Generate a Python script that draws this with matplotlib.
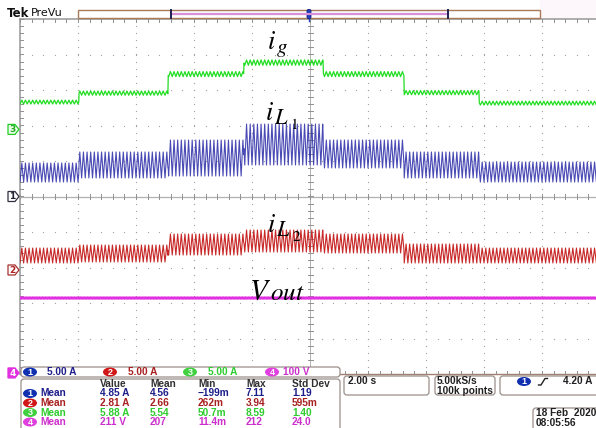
import numpy as np
import matplotlib
matplotlib.use("Agg")
import matplotlib.pyplot as plt
from matplotlib.patches import Polygon, Ellipse, FancyBboxPatch, Rectangle

W, H = 596, 428

# ---- acquisition settings ----
time_per_div = 2.0       # s/div
amps_per_div = 5.0       # A/div for channels 1-3
volts_per_div = 100.0    # V/div for channel 4
ripple_period = 0.125    # s, apparent (aliased) switching ripple

# load-step instants (s, relative to trigger)
step_times = [-7.97, -4.90, -2.28, 0.45, 3.24, 5.83]

# per-segment mean level and peak-to-peak ripple (A)
ig_level = [3.85, 5.11, 7.79, 9.41, 7.79, 5.18, 3.70]
ig_ripple = [0.55, 0.60, 0.70, 0.75, 0.70, 0.60, 0.55]
il1_level = [3.38, 4.44, 5.42, 7.32, 5.99, 4.44, 3.45]
il1_ripple = [2.68, 3.66, 5.07, 5.77, 3.94, 3.66, 2.82]
il2_level = [2.04, 2.32, 3.59, 4.08, 3.73, 2.32, 2.04]
il2_ripple = [2.11, 2.39, 2.96, 3.10, 2.68, 2.68, 2.11]
vout_level = 211.0       # V
vout_ripple = 6.0        # V p-p

# ground reference positions (divisions from screen centre)
offset_ch1 = 0.0
offset_ch2 = -2.07
offset_ch3 = 1.89
offset_ch4 = -4.97

# channel colours
col_ch1, col_ch2, col_ch3, col_ch4 = "#2a2aa8", "#c82828", "#22dd22", "#e030e0"
txt_ch1, txt_ch2, txt_ch3, txt_ch4 = "#1e1e8a", "#a82020", "#2ecc2e", "#cc30cc"
badge_ch1, badge_ch2, badge_ch3, badge_ch4 = "#1030b0", "#d01818", "#40d040", "#e040e0"

# readouts
scale_labels = ["5.00 A", "5.00 A", "5.00 A", "100 V"]
meas_header = ["Value", "Mean", "Min", "Max", "Std Dev"]
meas_rows = [
    ["4.85 A", "4.56", "\u2212199m", "7.11", "1.19"],
    ["2.81 A", "2.66", "262m", "3.94", "595m"],
    ["5.88 A", "5.54", "50.7m", "8.59", "1.40"],
    ["211 V", "207", "11.4m", "212", "24.0"],
]
timebase_label = "2.00 s"
sample_label = ["5.00kS/s", "100k points"]
trigger_label = "4.20 A"
date_label = ["18 Feb  2020", "08:05:56"]

plt.rcParams["mathtext.fontset"] = "stix"
plt.rcParams["font.family"] = ["DejaVu Sans"]
ui_font = ["Liberation Sans", "DejaVu Sans"]
ui_size = 7.3

fig = plt.figure(figsize=(W / 100, H / 100), dpi=100)
fig.patch.set_facecolor("white")

# graticule axes: 10 x 10 divisions, time in seconds, vertical in divisions
left_px, right_px, top_px, bot_px = 20, 600, 19, 374
ax = fig.add_axes([left_px / W, (H - bot_px) / H, (right_px - left_px) / W, (bot_px - top_px) / H])
ax.set_xlim(-5 * time_per_div, 5 * time_per_div)
ax.set_ylim(-5, 5)
ax.axis("off")

px_x = (2 * 5 * time_per_div) / (right_px - left_px)   # seconds per pixel
px_y = 10 / (bot_px - top_px)                            # divisions per pixel

grid_c = "#a0a0a0"
# dotted grid
sub_y = np.arange(-5, 5.001, 0.2)
sub_x = np.arange(-10, 10.001, 0.4)
for k in range(-4, 5):
    if k == 0:
        continue
    xv = k * time_per_div
    ax.scatter(np.full_like(sub_y, xv), sub_y, s=0.8, color=grid_c, lw=0, zorder=1)
    ax.scatter(sub_x, np.full_like(sub_x, k), s=0.8, color=grid_c, lw=0, zorder=1)

# centre crosshair with minor ticks
ax.axvline(0, color="#b0b0b0", lw=0.7, zorder=1)
ax.axhline(0, color="#b0b0b0", lw=0.9, zorder=1)
for yv in sub_y:
    ax.plot([-2.5 * px_x, 2.5 * px_x], [yv, yv], color="#909090", lw=0.7, zorder=1)
for xv in sub_x:
    ax.plot([xv, xv], [-2.5 * px_y, 2.5 * px_y], color="#909090", lw=0.7, zorder=1)

# screen border with ticks
ax.plot([-10, -10], [-5, 5], color="#a0a0a0", lw=1.2, clip_on=False, zorder=1)
ax.plot([-10, 10], [5, 5], color="#a0a0a0", lw=1.2, clip_on=False, zorder=1)
ax.plot([-10, 10], [-5, -5], color="#a08070", lw=1.0, clip_on=False, zorder=1)
for yv in sub_y:
    ax.plot([-10, -10 + 3 * px_x], [yv, yv], color="#909090", lw=0.7, zorder=1)
for xv in sub_x:
    ax.plot([xv, xv], [5, 5 - 3 * px_y], color="#909090", lw=0.7, zorder=1)
    ax.plot([xv, xv], [-5, -5 + 3 * px_y], color="#909090", lw=0.7, zorder=1)

# ---- traces ----
t = np.arange(-10, 10, ripple_period / 10)
seg = np.searchsorted(step_times, t)
phase = t / ripple_period
tri = 2 * np.abs(2 * (phase - np.floor(phase + 0.5))) - 1


def trace(levels, ripples):
    lv = np.asarray(levels)[seg]
    rp = np.asarray(ripples)[seg]
    return lv + 0.5 * rp * tri


vphase = t / 0.05
vtri = 2 * np.abs(2 * (vphase - np.floor(vphase + 0.5))) - 1
vout = vout_level + 0.5 * vout_ripple * vtri

ax.plot(t, offset_ch4 + vout / volts_per_div, color=col_ch4, lw=1.0, zorder=3)
ax.plot(t, offset_ch2 + trace(il2_level, il2_ripple) / amps_per_div, color=col_ch2, lw=0.8, zorder=3)
ax.plot(t, offset_ch1 + trace(il1_level, il1_ripple) / amps_per_div, color=col_ch1, lw=0.8, alpha=0.85, zorder=3)
ax.plot(t, offset_ch3 + trace(ig_level, ig_ripple) / amps_per_div, color=col_ch3, lw=0.9, zorder=3)

# ---- overlay in pixel coordinates for the instrument UI ----
ov = fig.add_axes([0, 0, 1, 1], zorder=10)
ov.set_xlim(0, W)
ov.set_ylim(H, 0)
ov.axis("off")


def ypix(offset):
    disp = ax.transData.transform((0, offset))
    return H - disp[1]


def ui_text(x, y, s, color="#202020", **kw):
    ov.text(x, y, s, fontsize=ui_size, fontweight="bold", family=ui_font,
            color=color, va="center", ha="left", **kw)


def sym(x, y, s, size):
    ov.text(x, y, s, fontsize=size, va="baseline", ha="left", color="black")


# trace labels (symbol with large subscripts)
sym(267, 49, r"$i$", 19)
sym(276, 53, r"$g$", 15)
sym(265, 120, r"$i$", 19)
sym(274, 124, r"$L$", 16)
sym(290, 129, r"$1$", 11)
sym(267, 232, r"$i$", 19)
sym(276, 236, r"$L$", 16)
sym(292, 241, r"$2$", 11)
sym(249, 299, r"$V$", 21)
sym(270, 300.5, r"$out$", 18)

# top status bar
ov.text(7, 13, "Tek", fontsize=8.5, fontweight="bold", va="center", ha="left", color="#111111")
ov.text(31, 13, "PreVu", fontsize=8, va="center", ha="left", color="#111111")
ov.add_patch(Rectangle((540, 0), 56, 18, fc="#fdf6fb", ec="none"))
ov.add_patch(Rectangle((78, 9.5), 462, 8.5, fc="white", ec="#a87a5a", lw=1.0))
ov.plot([171, 448], [14, 14], color="#d890d8", lw=1.6)
ov.plot([171, 171], [9.5, 18], color="#202050", lw=1.4)
ov.plot([448, 448], [9.5, 18], color="#202050", lw=1.4)
ov.add_patch(FancyBboxPatch((307, 9.5), 4, 9, boxstyle="round,pad=0,rounding_size=1.5",
                            fc="#2040c0", ec="#102080", lw=0.6))
ov.plot([309, 309], [18.5, 21], color="#2040c0", lw=1.0)

# channel ground markers
markers = [
    (offset_ch3, "3", "#22cc22", "#eaffea", "#22aa22"),
    (offset_ch1, "1", "#303040", "white", "#202030"),
    (offset_ch2, "2", "#a83030", "white", "#b02020"),
    (offset_ch4, "4", "#e030e0", "#e030e0", "white"),
]
for off, lab, ec, fc, tc in markers:
    y = ypix(off)
    ov.add_patch(Polygon([(8, y - 5), (15, y - 5), (19, y), (15, y + 5), (8, y + 5)],
                         closed=True, ec=ec, fc=fc, lw=0.9))
    ov.text(12.3, y + 0.3, lab, fontsize=6.5, fontweight="bold", color=tc, ha="center", va="center")

box_ec = "#9a8f88"


def badge(x, y, lab, col):
    ov.add_patch(Ellipse((x, y), 14, 9, fc=col, ec="none"))
    ov.text(x, y + 0.3, lab, fontsize=6.5, fontweight="bold", family=ui_font,
            color="white", ha="center", va="center")


# vertical scale readout
ov.add_patch(FancyBboxPatch((21, 367), 319, 10, boxstyle="round,pad=0,rounding_size=3",
                            fc="white", ec=box_ec, lw=0.9))
badge_cols = [badge_ch1, badge_ch2, badge_ch3, badge_ch4]
text_cols = [txt_ch1, txt_ch2, txt_ch3, txt_ch4]
for i, (bx, tx) in enumerate([(30, 47), (110, 128), (190, 208), (272, 283)]):
    badge(bx, 372, str(i + 1), badge_cols[i])
    ui_text(tx, 372, scale_labels[i], color=text_cols[i])

# measurement table
ov.add_patch(FancyBboxPatch((21, 379), 319, 55, boxstyle="round,pad=0,rounding_size=3",
                            fc="white", ec=box_ec, lw=0.9))
col_x = [100, 150, 198, 246, 292]
for cx, h in zip(col_x, meas_header):
    ui_text(cx, 384, h, color="#303030")
row_y = [393.5, 403, 412.5, 422]
for i, (ry, row) in enumerate(zip(row_y, meas_rows)):
    badge(30, ry, str(i + 1), badge_cols[i])
    ui_text(40, ry, "Mean", color=text_cols[i])
    for cx, v in zip(col_x, row):
        ui_text(cx, ry, v, color=text_cols[i])

# timebase / sampling / trigger / date boxes
rb = dict(boxstyle="round,pad=0,rounding_size=3", fc="white", ec=box_ec, lw=0.9)
ov.add_patch(FancyBboxPatch((344, 376), 85, 19, **rb))
ui_text(348, 381.5, timebase_label)
ov.add_patch(FancyBboxPatch((435, 376), 60, 19, **rb))
ui_text(437, 381.5, sample_label[0])
ui_text(437, 391, sample_label[1])
ov.add_patch(FancyBboxPatch((500, 376), 100, 19, **rb))
badge(524, 381.5, "1", badge_ch1)
ov.plot([538.5, 541, 545, 547.5], [385, 385, 378.5, 378.5], color="#202020", lw=1.0)
ui_text(563, 381.5, trigger_label)
ov.add_patch(FancyBboxPatch((533, 408), 70, 22, **rb))
ui_text(536, 413.5, date_label[0])
ui_text(536, 422.5, date_label[1])

fig.savefig("out.png", dpi=100, facecolor="white")
